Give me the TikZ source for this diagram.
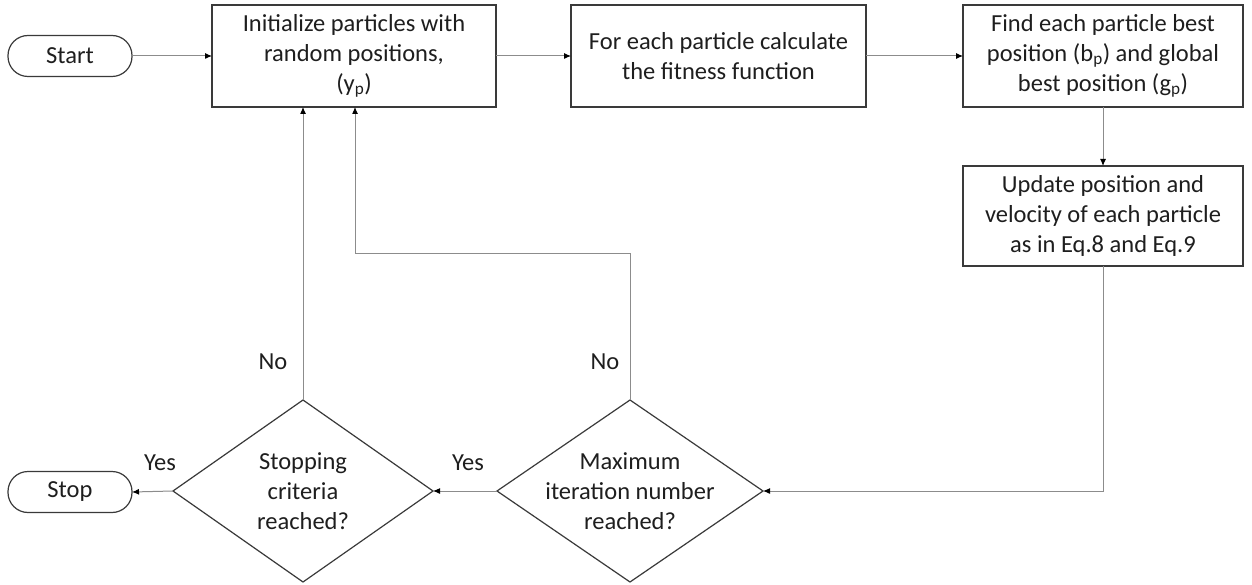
\documentclass[tikz,border=0pt]{standalone}
\usepackage{fontspec}
\setmainfont{Carlito}
\usetikzlibrary{arrows.meta,shapes.geometric}
\definecolor{boxline}{HTML}{3A3A3A}
\definecolor{connline}{HTML}{8C8C8C}
\definecolor{txt}{HTML}{1E1E1E}
\tikzset{
  base/.style={outer sep=0pt, inner sep=0pt, text=txt, align=center,
    font=\fontsize{24.5}{30}\selectfont},
  procbox/.style={base, draw=boxline, line width=1.2pt, rectangle},
  termbox/.style={base, draw=boxline, line width=1.2pt, rectangle,
    rounded corners=20pt, minimum width=124pt, minimum height=41pt},
  decbox/.style={base, draw=boxline, line width=1.2pt, diamond},
  conn/.style={draw=connline, line width=1pt,
    -{Latex[length=7pt,width=6pt,color=black]}},
  lbl/.style={base}
}
\begin{document}
\begin{tikzpicture}[x=1pt,y=-1pt]
\useasboundingbox[fill=white] (0,0) rectangle (1252,585);
\node[termbox] (start) at (70,56) {Start};
\node[procbox, minimum width=284pt, minimum height=102pt] (init) at (354,56)
  {Initialize particles with\\random positions,\\(y\textsubscript{p})};
\node[procbox, minimum width=295pt, minimum height=102pt] (fitness) at (718.5,56)
  {For each particle calculate\\the fitness function};
\node[procbox, minimum width=280pt, minimum height=102pt] (find) at (1103,56)
  {Find each particle best\\position (b\textsubscript{p}) and global\\best position (g\textsubscript{p})};
\node[procbox, minimum width=280pt, minimum height=100pt] (update) at (1103,216)
  {Update position and\\velocity of each particle\\as in Eq.8 and Eq.9};
\node[decbox, minimum width=266pt, minimum height=182pt] (maxd) at (630,491) {};
\node[lbl] (maxtxt) at (maxd.center) {Maximum\\iteration number\\reached?};
\node[decbox, minimum width=260pt, minimum height=182pt] (stopd) at (303,491) {};
\node[lbl] (stoptxt) at (stopd.center) {Stopping\\criteria\\reached?};
\node[termbox] (stop) at (70,492) {Stop};
\node[lbl] (no1) at (273,362) {No};
\node[lbl] (no2) at (605,362) {No};
\node[lbl] (yes1) at (160,463) {Yes};
\node[lbl] (yes2) at (468,463) {Yes};
\coordinate (turn) at (355,254);
\draw[conn] (start) -- (init);
\draw[conn] (init) -- (fitness);
\draw[conn] (fitness) -- (find);
\draw[conn] (find) -- (update);
\draw[conn] (update.south) |- (maxd.east);
\draw[conn] (maxd.west) -- (stopd.east);
\draw[conn] (stopd.west) -- (stop.east);
\draw[conn] (stopd.north) -- (stopd.north |- init.south);
\draw[conn] (maxd.north) |- (turn) -- (turn |- init.south);
\end{tikzpicture}
\end{document}
